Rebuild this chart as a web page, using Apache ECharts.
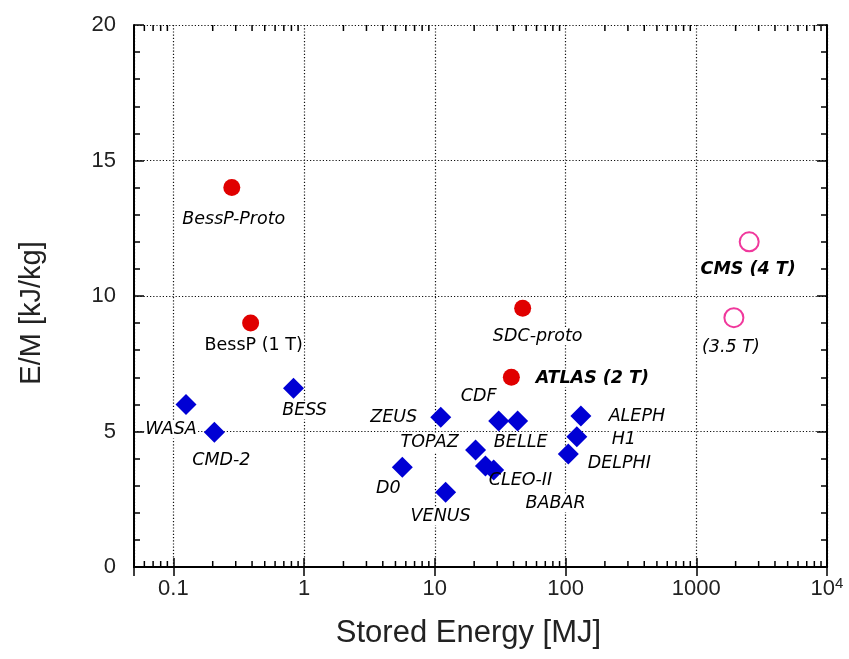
<!DOCTYPE html>
<html>
<head>
<meta charset="utf-8">
<script src="https://cdn.jsdelivr.net/npm/echarts@6/dist/echarts.min.js"></script>
<style>
html,body{margin:0;padding:0;background:#fff;}
#chart{width:849px;height:659px;}
</style>
</head>
<body>
<div id="chart"></div>
<script>
// ---- data ----
const redNames = ['BessP-Proto', 'BessP (1 T)', 'SDC-proto', 'ATLAS (2 T)'];
const redEnergy = [0.28, 0.39, 47, 38.5];
const redEM = [14.0, 9.0, 9.55, 7.0];

const cmsNames = ['CMS (4 T)', '(3.5 T)'];
const cmsEnergy = [2540, 1940];
const cmsEM = [12.0, 9.2];

const blueNames = ['WASA', 'CMD-2', 'BESS', 'ZEUS', 'D0', 'VENUS', 'TOPAZ', 'CDF', 'BELLE', 'CLEO-II', 'BABAR', 'ALEPH', 'H1', 'DELPHI'];
const blueEnergy = [0.125, 0.206, 0.83, 11.1, 5.64, 12.1, 20.5, 30.8, 43, 24.4, 28.2, 131, 122, 105];
const blueEM = [6.0, 4.97, 6.6, 5.53, 3.68, 2.76, 4.32, 5.39, 5.39, 3.73, 3.58, 5.57, 4.81, 4.17];

const xTickValues = [0.1, 1, 10, 100, 1000, 10000];
const xTickLabels = ['0.1', '1', '10', '100', '1000', '10^4'];
const xMinorTicks = [0.06, 0.07, 0.08, 0.09,
  0.2, 0.3, 0.4, 0.5, 0.6, 0.7, 0.8, 0.9,
  2, 3, 4, 5, 6, 7, 8, 9,
  20, 30, 40, 50, 60, 70, 80, 90,
  200, 300, 400, 500, 600, 700, 800, 900,
  2000, 3000, 4000, 5000, 6000, 7000, 8000, 9000];
const yTickLabels = ['0', '5', '10', '15', '20'];

// ---- label styling (not data) ----
const labelStyle = {
  'BessP-Proto': { offset: [2, 32] },
  'BessP (1 T)': { offset: [3, 22], fontStyle: 'normal' },
  'SDC-proto': { offset: [15, 28] },
  'ATLAS (2 T)': { offset: [81, 1], fontWeight: 'bold' },
  'CMS (4 T)': { offset: [-1, 28], fontWeight: 'bold' },
  '(3.5 T)': { offset: [-3, 30] },
  'WASA': { offset: [-15, 25] },
  'CMD-2': { offset: [7, 28] },
  'BESS': { offset: [11, 22] },
  'ZEUS': { offset: [-47, 0] },
  'TOPAZ': { offset: [-46, -7] },
  'D0': { offset: [-14, 21] },
  'VENUS': { offset: [-5, 24] },
  'CDF': { offset: [-20, -24] },
  'BELLE': { offset: [3, 22] },
  'CLEO-II': { offset: [35, 15], noBg: true },
  'BABAR': { offset: [62, 33] },
  'ALEPH': { offset: [56, 0] },
  'H1': { offset: [47, 3] },
  'DELPHI': { offset: [51, 9] }
};

function buildItems(names, xs, ys) {
  return names.map((n, i) => {
    const s = labelStyle[n] || {};
    return {
      name: n,
      value: [xs[i], ys[i]],
      label: {
        show: true,
        formatter: n,
        position: 'inside',
        offset: s.offset || [0, 0],
        fontStyle: s.fontStyle || 'italic',
        fontWeight: s.fontWeight || 'normal',
        fontFamily: 'DejaVu Sans',
        fontSize: 17.5,
        color: '#000',
        backgroundColor: s.noBg ? 'transparent' : '#fff',
        padding: [0, 1]
      }
    };
  });
}

function fmtX(v) {
  for (let i = 0; i < xTickValues.length; i++) {
    if (Math.abs(Math.log10(v) - Math.log10(xTickValues[i])) < 1e-6) {
      const t = xTickLabels[i];
      if (t.indexOf('^') >= 0) {
        const parts = t.split('^');
        return '{b|' + parts[0] + '}{s|' + parts[1] + '}';
      }
      return '{b|' + t + '}';
    }
  }
  return '';
}

const chart = echarts.init(document.getElementById('chart'), null, { renderer: 'canvas' });
const axisFont = 'Liberation Sans';
const lineCol = '#000';
const gridLine = { show: true, lineStyle: { color: '#111', width: 1.2, type: [1.2, 2] } };

const option = {
  backgroundColor: '#fff',
  animation: false,
  grid: { left: 134, right: 22, top: 25, bottom: 92 },
  xAxis: [{
    type: 'log', logBase: 10, min: 0.05, max: 10000,
    position: 'bottom',
    name: 'Stored Energy [MJ]', nameLocation: 'middle', nameGap: 51,
    nameTextStyle: { fontFamily: axisFont, fontSize: 31, color: '#222', padding: [0, 24, 0, 0] },
    axisLine: { lineStyle: { color: lineCol, width: 2 } },
    axisTick: { inside: true, length: 9, lineStyle: { color: lineCol, width: 1.5 } },
    axisLabel: {
      formatter: fmtX, margin: 9, showMinLabel: true, showMaxLabel: true,
      rich: {
        b: { fontFamily: axisFont, fontSize: 22, lineHeight: 24, color: '#222', verticalAlign: 'bottom' },
        s: { fontFamily: axisFont, fontSize: 15, lineHeight: 15, color: '#222', verticalAlign: 'top' }
      }
    },
    splitLine: gridLine
  }, {
    type: 'log', logBase: 10, min: 0.05, max: 10000,
    position: 'top',
    axisLine: { lineStyle: { color: lineCol, width: 2 } },
    axisTick: { inside: true, length: 9, lineStyle: { color: lineCol, width: 1.5 } },
    axisLabel: { show: false },
    splitLine: { show: false }
  }],
  yAxis: [{
    type: 'value', min: 0, max: 20, interval: 5,
    position: 'left',
    name: 'E/M [kJ/kg]', nameLocation: 'middle', nameGap: 88,
    nameTextStyle: { fontFamily: axisFont, fontSize: 29, color: '#222', padding: [0, 34, 0, 0] },
    axisLine: { lineStyle: { color: lineCol, width: 2 } },
    axisTick: { inside: true, length: 10, lineStyle: { color: lineCol, width: 1.5 } },
    minorTick: { show: true, splitNumber: 5, length: 6, lineStyle: { color: lineCol, width: 1.5 } },
    axisLabel: {
      formatter: v => yTickLabels[Math.round(v / 5)] || '',
      fontFamily: axisFont, fontSize: 22, color: '#222', margin: 18
    },
    splitLine: gridLine
  }, {
    type: 'value', min: 0, max: 20, interval: 5,
    position: 'right',
    axisLine: { lineStyle: { color: lineCol, width: 2 } },
    axisTick: { inside: true, length: 10, lineStyle: { color: lineCol, width: 1.5 } },
    minorTick: { show: true, splitNumber: 5, length: 6, lineStyle: { color: lineCol, width: 1.5 } },
    axisLabel: { show: false },
    splitLine: { show: false }
  }],
  series: [{
    type: 'custom',
    name: 'minorTicks',
    silent: true,
    xAxisIndex: 0, yAxisIndex: 0,
    data: xMinorTicks.map(v => [v, 0]),
    renderItem: function (params, api) {
      const v = api.value(0);
      const b = api.coord([v, 0]);
      const t = api.coord([v, 20]);
      const st = { stroke: '#000', lineWidth: 1.5 };
      return {
        type: 'group',
        children: [
          { type: 'line', shape: { x1: b[0], y1: b[1], x2: b[0], y2: b[1] - 6 }, style: st },
          { type: 'line', shape: { x1: t[0], y1: t[1], x2: t[0], y2: t[1] + 6 }, style: st }
        ]
      };
    },
    z: 3
  }, {
    type: 'scatter',
    name: 'blue',
    symbol: 'diamond', symbolSize: 21,
    itemStyle: { color: '#0000d4', opacity: 1 },
    data: buildItems(blueNames, blueEnergy, blueEM),
    z: 5
  }, {
    type: 'scatter',
    name: 'red',
    symbol: 'circle', symbolSize: 17,
    itemStyle: { color: '#e00000', opacity: 1 },
    data: buildItems(redNames, redEnergy, redEM),
    z: 5
  }, {
    type: 'scatter',
    name: 'cms',
    symbol: 'circle', symbolSize: 19,
    itemStyle: { color: '#fff', borderColor: '#f0389c', borderWidth: 2, opacity: 1 },
    data: buildItems(cmsNames, cmsEnergy, cmsEM),
    z: 5
  }]
};
chart.setOption(option);
</script>
</body>
</html>
